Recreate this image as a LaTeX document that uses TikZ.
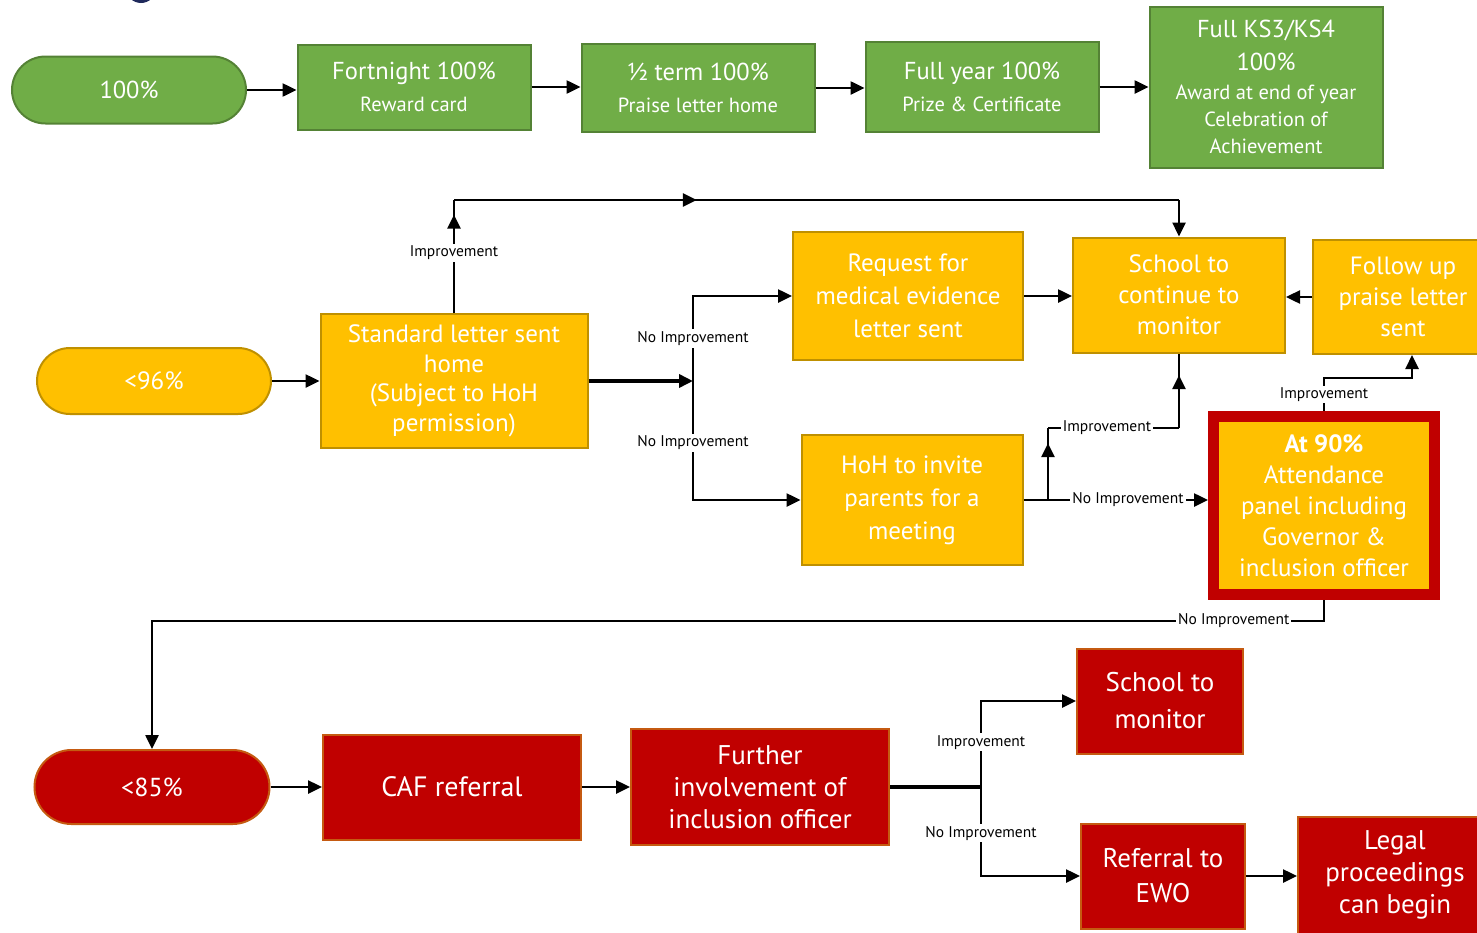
\documentclass[tikz,border=0pt]{standalone}
\usepackage{fontspec}
\setmainfont{PT Sans}
\usetikzlibrary{arrows.meta,shapes.misc,decorations.markings}

\definecolor{grn}{HTML}{70AD47}
\definecolor{grnline}{HTML}{548235}
\definecolor{amb}{HTML}{FFC000}
\definecolor{ambline}{HTML}{BF9000}
\definecolor{rd}{HTML}{C00000}
\definecolor{rdline}{HTML}{C55A11}
\definecolor{logoblue}{HTML}{1F2A5C}

\tikzset{
  box/.style={draw, line width=2pt, text=white, align=center, inner sep=0pt},
  greenbox/.style={box, fill=grn, draw=grnline},
  amberbox/.style={box, fill=amb, draw=ambline},
  redbox/.style={box, fill=rd, draw=rdline},
  pill/.style={rounded rectangle, minimum width=234pt, minimum height=67pt},
  conn/.style={line width=2.5pt},
  arr/.style={conn, -{Triangle[length=14pt,width=13pt]}},
  midarr/.style={conn, postaction={decorate}, decoration={markings,
      mark=at position #1 with {\arrow{Triangle[length=14pt,width=13pt]}}}},
  lbl/.style={fill=white, inner sep=2pt, text=black, font=\fontsize{15.5}{18}\selectfont},
  big/.style={font=\fontsize{25}{31}\selectfont},
  bigger/.style={font=\fontsize{27}{32}\selectfont},
  twoline/.style={font=\fontsize{20.5}{32}\selectfont},
}
\newcommand{\headline}[1]{{\fontsize{24.5}{30}\selectfont #1}}

\begin{document}
\begin{tikzpicture}[x=1pt,y=1pt,yscale=-1]
\useasboundingbox (0,0) rectangle (1477,932);
\clip (0,0) rectangle (1477,932);

% logo remnant
\fill[logoblue] (141,-12) circle (15);

% 100% row
\node[greenbox, pill, font=\fontsize{24.5}{30}\selectfont] (p100) at (129,90) {100\%};
\node[greenbox, twoline, minimum width=233pt, minimum height=85pt] (fortnight) at (414,87)
  {\headline{Fortnight 100\%}\\Reward card};
\node[greenbox, twoline, minimum width=233pt, minimum height=88pt] (halfterm) at (698,88)
  {\headline{½ term 100\%}\\Praise letter home};
\node[greenbox, twoline, minimum width=233pt, minimum height=90pt] (fullyear) at (982,87)
  {\headline{Full year 100\%}\\Prize \& Certificate};
\node[greenbox, font=\fontsize{20.5}{27}\selectfont, minimum width=233pt, minimum height=161pt] (ks) at (1266,87)
  {\headline{Full KS3/KS4}\\[6pt]\headline{100\%}\\[2pt]Award at end of year\\Celebration of\\Achievement};

% <96% row
\node[amberbox, pill, minimum height=66pt, big] (lt96) at (154,381) {<96\%};
\node[amberbox, font=\fontsize{25}{29.5}\selectfont, minimum width=267pt, minimum height=134pt] (std) at (454,381)
  {Standard letter sent\\home\\(Subject to HoH\\permission)};
\node[amberbox, font=\fontsize{25}{33}\selectfont, minimum width=230pt, minimum height=128pt] (medical) at (908,296)
  {Request for\\medical evidence\\letter sent};
\node[amberbox, big, minimum width=212pt, minimum height=115pt] (monitor) at (1179,295)
  {School to\\continue to\\monitor};
\node[amberbox, big, minimum width=180pt, minimum height=114pt] (followup) at (1403,297)
  {Follow up\\praise letter\\sent};
\node[amberbox, font=\fontsize{25}{33}\selectfont, minimum width=221pt, minimum height=130pt] (hoh) at (912,500)
  {HoH to invite\\parents for a\\meeting};
\node[amberbox, draw=rd, line width=11pt, big, minimum width=221pt, minimum height=178pt] (at90) at (1324,505.5)
  {\textbf{At 90\%}\\Attendance\\panel including\\Governor \&\\inclusion officer};

% <85% row
\node[redbox, pill, minimum width=235pt, minimum height=74pt, font=\fontsize{26}{31}\selectfont] (lt85) at (152,787) {<85\%};
\node[redbox, font=\fontsize{28}{32}\selectfont, minimum width=258pt, minimum height=105pt] (caf) at (452,787) {CAF referral};
\node[redbox, bigger, minimum width=258pt, minimum height=116pt] (further) at (760,787)
  {Further\\involvement of\\inclusion officer};
\node[redbox, font=\fontsize{27}{37}\selectfont, minimum width=166pt, minimum height=105pt] (schmon) at (1160,701)
  {School to\\monitor};
\node[redbox, font=\fontsize{27}{35}\selectfont, minimum width=164pt, minimum height=105pt] (ewo) at (1163,876)
  {Referral to\\EWO};
\node[redbox, bigger, minimum width=194pt, minimum height=117pt] (legal) at (1395,875)
  {Legal\\proceedings\\can begin};

% connectors, top row
\draw[arr] (p100.east) -- (p100.east -| fortnight.west);
\draw[arr] (fortnight.east) -- (fortnight.east -| halfterm.west);
\draw[arr] (halfterm.east) -- (halfterm.east -| fullyear.west);
\draw[arr] (fullyear.east) -- (fullyear.east -| ks.west);

% connectors, middle row
\coordinate (impL) at (std.north |- 0,200);
\coordinate (impR) at (monitor.north |- 0,200);
\coordinate (split1) at (693,381);
\coordinate (split2) at (1048,500);
\coordinate (impUp) at (split2 |- 0,428);
\coordinate (impMon) at (monitor.south |- 0,428);
\coordinate (at90up) at (at90.north |- 0,378);
\coordinate (nb1) at (at90.south |- 0,621);
\coordinate (nb2) at (lt85.north |- 0,621);

\draw[arr] (lt96.east) -- (lt96.east -| std.west);
\draw[midarr=0.87] (std.north) -- node[lbl, pos=0.53] {Improvement} (impL);
\draw[midarr=0.335] (impL) -- (impR);
\draw[arr] (impR) -- (monitor.north);
\draw[arr, line width=4pt] (std.east) -- (split1);
\draw[arr] (split1) |- node[lbl, pos=0.25] {No Improvement} (medical.west);
\draw[arr] (split1) |- node[lbl, pos=0.26] {No Improvement} (hoh.west);
\draw[arr] (medical.east) -- (medical.east -| monitor.west);
\draw[arr] (followup.west) -- (followup.west -| monitor.east);
\draw[conn] (hoh.east) -- (split2);
\draw[midarr=0.79] (split2) -- (impUp);
\draw[conn] (impUp) -- node[lbl, pos=0.45] {Improvement} (impMon);
\draw[midarr=0.71] (impMon) -- (monitor.south);
\draw[arr] (split2) -- node[lbl] {No Improvement} (split2 -| at90.west);
\draw[arr] (at90.north) -- node[lbl] {Improvement} (at90up) -| ([xshift=9pt]followup.south);
\draw[arr] (at90.south) -- (nb1) -- node[lbl, pos=0.077] {No Improvement} (nb2) -- (lt85.north);

% connectors, bottom row
\coordinate (split3) at (981,787);
\draw[arr] (lt85.east) -- (lt85.east -| caf.west);
\draw[arr] (caf.east) -- (caf.east -| further.west);
\draw[conn, line width=4pt] (further.east) -- (split3);
\draw[arr] (split3) |- node[lbl, pos=0.26] {Improvement} (schmon.west);
\draw[arr] (split3) |- node[lbl, pos=0.26] {No Improvement} (ewo.west);
\draw[arr] (ewo.east) -- (ewo.east -| legal.west);

\end{tikzpicture}
\end{document}
